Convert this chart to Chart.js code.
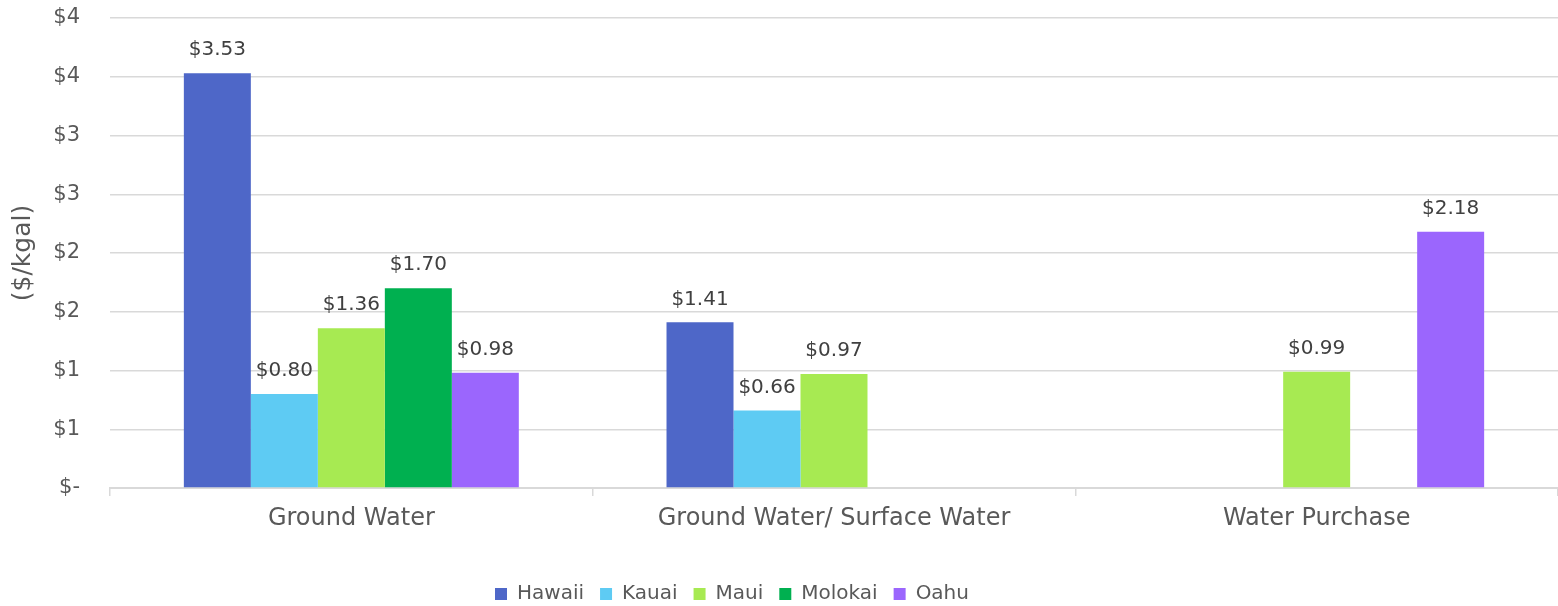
<!DOCTYPE html>
<html>
<head>
<meta charset="utf-8">
<script src="https://cdn.jsdelivr.net/npm/chart.js@4.4.1/dist/chart.umd.min.js"></script>
<style>
  html, body { margin: 0; padding: 0; background: #fff; }
  #wrap { width: 1558px; height: 606px; }
</style>
</head>
<body>
<div id="wrap"><canvas id="chart" width="1558" height="606"></canvas></div>
<script>
// Water cost by source and island ($/kgal)
const categories = ['Ground Water', 'Ground Water/ Surface Water', 'Water Purchase'];
const islands = ['Hawaii', 'Kauai', 'Maui', 'Molokai', 'Oahu'];
const hawaii = [3.53, 1.41, null];
const kauai = [0.80, 0.66, null];
const maui = [1.36, 0.97, 0.99];
const molokai = [1.70, null, null];
const oahu = [0.98, null, 2.18];
const yTickLabels = ['$-', '$1', '$1', '$2', '$2', '$3', '$3', '$4', '$4'];

const colors = ['#4e67c8', '#5ecbf3', '#a7ea52', '#00b050', '#9b66fd'];
const series = [hawaii, kauai, maui, molokai, oahu];
const FONT = 'DejaVu Sans';
const TEXT = '#595959';
const GRID = '#d9d9d9';

// draws "$x.xx" above each bar
const barLabels = {
  id: 'barLabels',
  afterLayout(chart) {
    // legend in the original sits a bit left of centre
    chart.legend.right -= 94;
  },
  afterDatasetsDraw(chart) {
    const ctx = chart.ctx;
    ctx.save();
    ctx.font = '20px "' + FONT + '"';
    ctx.fillStyle = '#404040';
    ctx.textAlign = 'center';
    ctx.textBaseline = 'bottom';
    chart.data.datasets.forEach((ds, i) => {
      chart.getDatasetMeta(i).data.forEach((bar, j) => {
        const v = ds.data[j];
        if (v == null) return;
        ctx.fillText('$' + v.toFixed(2), bar.x, bar.y - 13);
      });
    });
    ctx.restore();
  }
};

new Chart(document.getElementById('chart'), {
  type: 'bar',
  data: {
    labels: categories,
    datasets: series.map((d, i) => ({
      label: islands[i],
      data: d,
      backgroundColor: colors[i],
      barPercentage: 1,
      categoryPercentage: 0.694,
    }))
  },
  options: {
    responsive: false,
    animation: false,
    layout: { padding: { top: 18, left: 0, right: 0, bottom: -8 } },
    plugins: {
      tooltip: { enabled: false },
      legend: {
        position: 'bottom',
        labels: {
          color: TEXT,
          font: { family: FONT, size: 20 },
          boxWidth: 12,
          boxHeight: 12,
          padding: 16,
        }
      }
    },
    scales: {
      x: {
        grid: { drawOnChartArea: false, drawTicks: true, tickLength: 8, offset: true, color: GRID, lineWidth: 1.5 },
        border: { color: GRID, width: 2 },
        ticks: { color: TEXT, font: { family: FONT, size: 24 }, padding: 8 },
        afterFit: s => { s.height = 80; }
      },
      y: {
        min: 0,
        max: 4,
        grid: { drawTicks: true, tickLength: 30, tickColor: 'rgba(0,0,0,0)', color: GRID, lineWidth: 1.5 },
        border: { display: false },
        ticks: {
          stepSize: 0.5,
          color: TEXT,
          font: { family: FONT, size: 21 },
          padding: 0,
          callback: (v, i) => yTickLabels[i]
        },
        title: {
          display: true,
          text: '($/kgal)',
          color: TEXT,
          font: { family: FONT, size: 25 },
          padding: { top: 8, bottom: 0 }
        },
        afterFit: s => { s.width = 110; }
      }
    }
  },
  plugins: [barLabels]
});
</script>
</body>
</html>
